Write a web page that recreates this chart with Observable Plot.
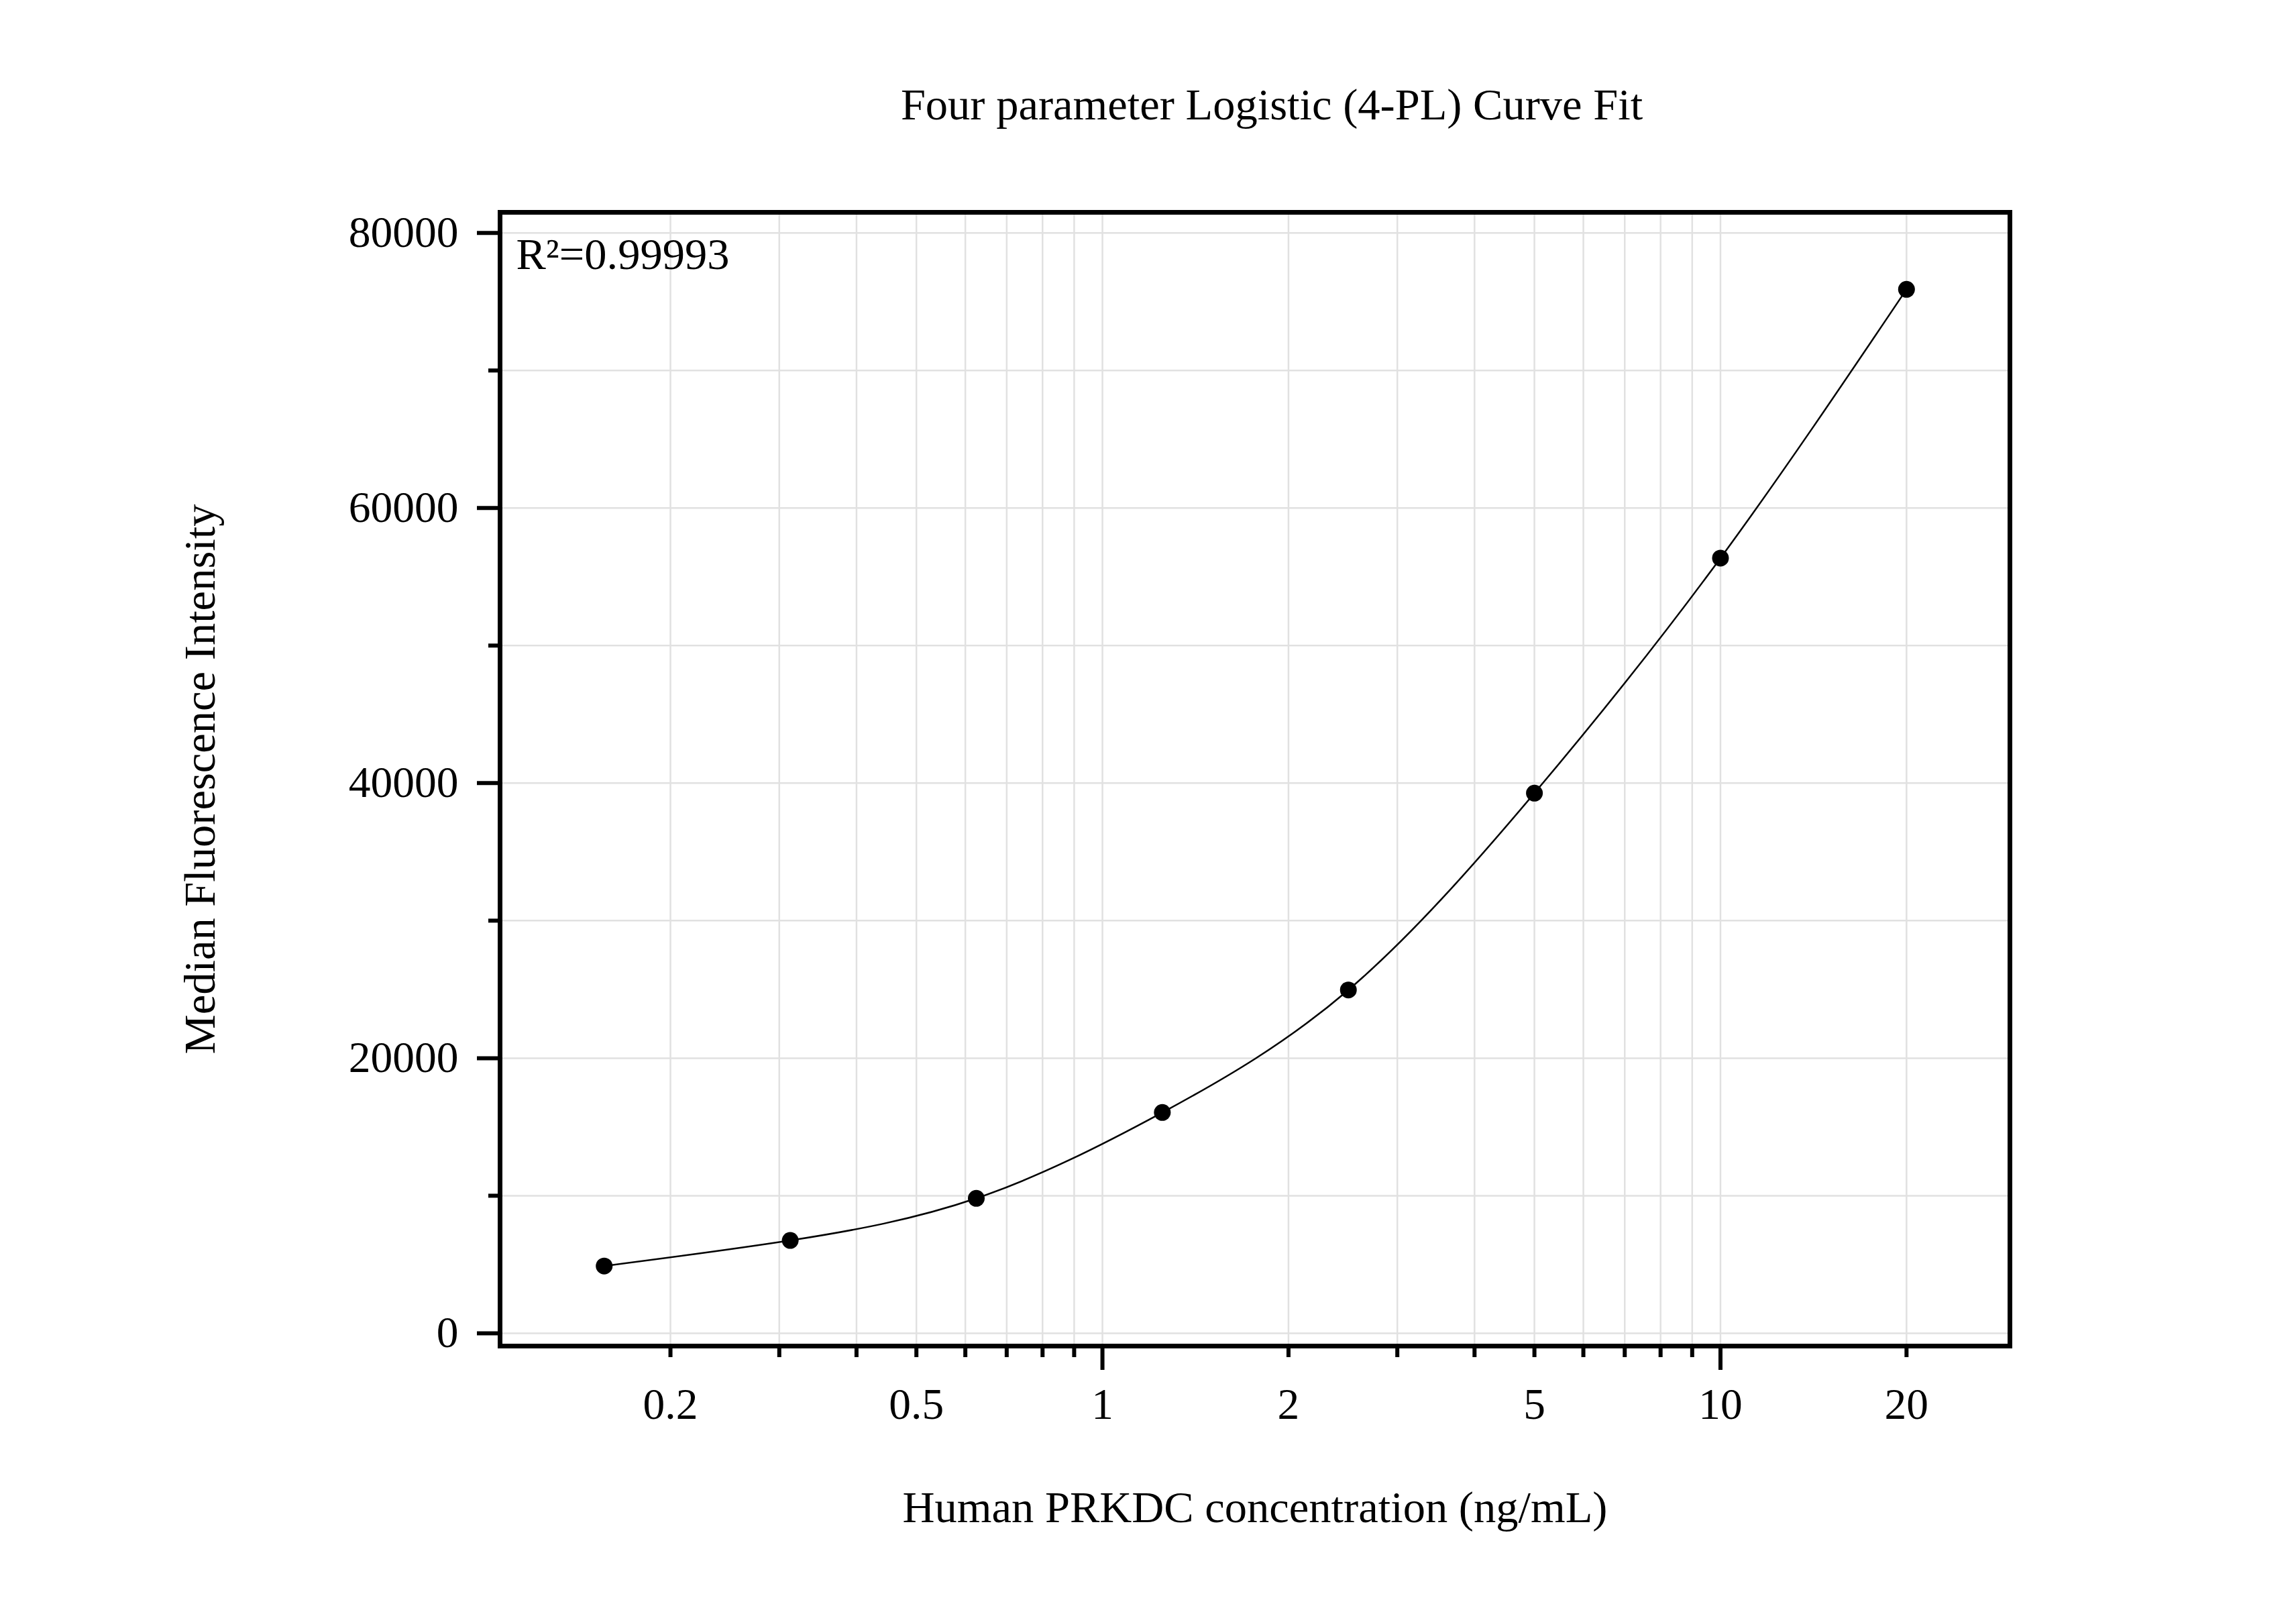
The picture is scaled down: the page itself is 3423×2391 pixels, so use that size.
<!DOCTYPE html>
<html>
<head>
<meta charset="utf-8">
<script src="https://cdn.jsdelivr.net/npm/d3@7"></script>
<script src="https://cdn.jsdelivr.net/npm/@observablehq/plot@0.6"></script>
<style>
  html, body { margin: 0; padding: 0; background: #ffffff; }
</style>
</head>
<body>
<div id="chart"></div>
<script>
// ---- data ----
const concentrations = [0.15625, 0.3125, 0.625, 1.25, 2.5, 5, 10, 20];
const intensities = [4890, 6750, 9810, 16050, 24960, 39270, 56360, 75900];

// ---- ticks and labels ----
const xMinorTicks = [0.2, 0.3, 0.4, 0.5, 0.6, 0.7, 0.8, 0.9, 2, 3, 4, 5, 6, 7, 8, 9, 20];
const xMajorTicks = [1, 10];
const xTickLabels = [0.2, 0.5, 1, 2, 5, 10, 20];
const xGridTicks = [0.2, 0.3, 0.4, 0.5, 0.6, 0.7, 0.8, 0.9, 1, 2, 3, 4, 5, 6, 7, 8, 9, 10, 20];
const yMajorTicks = [0, 20000, 40000, 60000, 80000];
const yMinorTicks = [10000, 30000, 50000, 70000];
const yGridTicks = [0, 10000, 20000, 30000, 40000, 50000, 60000, 70000, 80000];

const titleText = "Four parameter Logistic (4-PL) Curve Fit";
const xLabelText = "Human PRKDC concentration (ng/mL)";
const yLabelText = "Median Fluorescence Intensity";
const r2Text = "R²=0.99993";

const points = concentrations.map((c, i) => ({x: c, y: intensities[i]}));

const FONT = "'Liberation Serif', 'Times New Roman', serif";
const gridColor = "#e1e1e1";

const chart = Plot.plot({
  width: 3423,
  height: 2391,
  marginLeft: 745,
  marginRight: 427,
  marginTop: 316,
  marginBottom: 385,
  style: {fontFamily: FONT, background: "#ffffff", color: "#000000", overflow: "visible"},
  x: {type: "log", domain: [0.106, 29.4]},
  y: {domain: [-930, 81500]},
  marks: [
    Plot.gridX(xGridTicks, {stroke: gridColor, strokeOpacity: 1, strokeWidth: 2.5}),
    Plot.gridY(yGridTicks, {stroke: gridColor, strokeOpacity: 1, strokeWidth: 2.5}),
    Plot.line(points, {x: "x", y: "y", curve: "natural", stroke: "#000", strokeWidth: 2.5}),
    Plot.dot(points, {x: "x", y: "y", r: 12.5, fill: "#000", stroke: "none"}),
    Plot.frame({stroke: "#000", strokeWidth: 7}),
    // x axis ticks
    Plot.axisX(xMinorTicks, {anchor: "bottom", tickSize: 17, strokeWidth: 6, fill: "none", label: null}),
    Plot.axisX(xMajorTicks, {anchor: "bottom", tickSize: 36, strokeWidth: 6, fill: "none", label: null}),
    Plot.axisX(xTickLabels, {anchor: "bottom", tickSize: 0, tickPadding: 62, fontSize: 65.5, label: null, tickFormat: d => String(d)}),
    // y axis ticks
    Plot.axisY(yMinorTicks, {anchor: "left", tickSize: 17, strokeWidth: 6, fill: "none", label: null}),
    Plot.axisY(yMajorTicks, {anchor: "left", tickSize: 34, strokeWidth: 6, fill: "none", label: null}),
    Plot.axisY(yMajorTicks, {anchor: "left", tickSize: 0, tickPadding: 62, fontSize: 65.5, label: null, tickFormat: d => String(d)}),
    // texts
    Plot.text([titleText], {text: d => d, frameAnchor: "top", dx: 25, dy: -160, textAnchor: "middle", lineAnchor: "middle", fontSize: 66.5, fill: "#000"}),
    Plot.text([xLabelText], {text: d => d, frameAnchor: "bottom", dy: 241, textAnchor: "middle", lineAnchor: "middle", fontSize: 66.5, fill: "#000"}),
    Plot.text([yLabelText], {text: d => d, frameAnchor: "left", dx: -447, rotate: -90, textAnchor: "middle", lineAnchor: "middle", fontSize: 66.5, fill: "#000"}),
    Plot.text([r2Text], {text: d => d, frameAnchor: "top-left", dx: 24, dy: 37, textAnchor: "start", lineAnchor: "top", fontSize: 66.5, fill: "#000"})
  ]
});

document.getElementById("chart").appendChild(chart);
</script>
</body>
</html>
